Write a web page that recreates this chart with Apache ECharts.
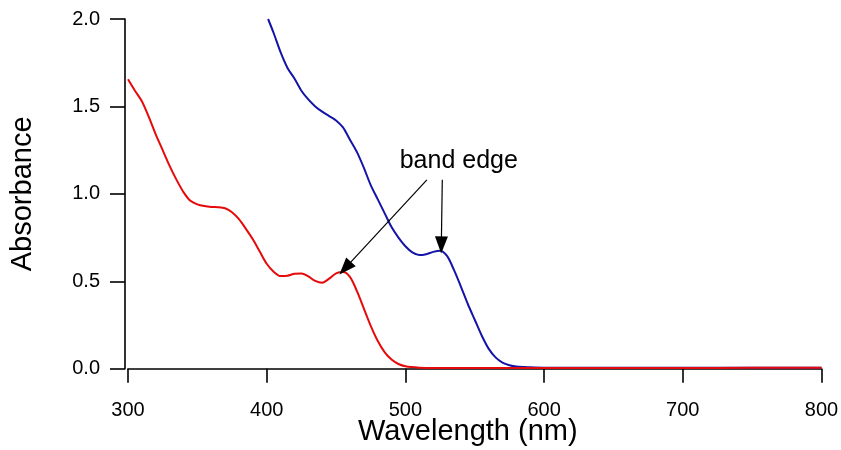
<!DOCTYPE html>
<html>
<head>
<meta charset="utf-8">
<script src="https://cdn.jsdelivr.net/npm/echarts@6/dist/echarts.min.js"></script>
<style>
  html, body { margin: 0; padding: 0; background: #fff; }
  #chart { width: 841px; height: 450px; }
</style>
</head>
<body>
<div id="chart"></div>
<script>
  // red spectrum (shorter wavelength band edge)
  const redNm = [300, 305, 310, 315, 320, 325, 330, 335, 340, 345, 350, 355, 360, 365, 370, 375, 380, 385, 390, 395,
    400, 405, 410, 415, 420, 425, 430, 435, 440, 445, 450, 455, 460, 465, 470, 475, 480, 485, 490, 495,
    500, 510, 520, 550, 600, 650, 700, 750, 800];
  const redAbs = [1.655, 1.59, 1.53, 1.44, 1.34, 1.25, 1.16, 1.08, 1.01, 0.96, 0.94, 0.93, 0.925, 0.924, 0.918, 0.895, 0.855, 0.80, 0.74, 0.67,
    0.60, 0.555, 0.53, 0.532, 0.543, 0.545, 0.528, 0.502, 0.492, 0.515, 0.545, 0.553, 0.525, 0.445, 0.345, 0.245, 0.16, 0.095, 0.052, 0.027,
    0.014, 0.006, 0.004, 0.004, 0.004, 0.004, 0.004, 0.005, 0.005];

  // blue spectrum
  const blueNm = [401, 405, 410, 415, 420, 425, 430, 435, 440, 445, 450, 455, 460, 465, 470, 475, 480, 485, 490, 495,
    500, 505, 510, 515, 520, 525, 530, 535, 540, 545, 550, 555, 560, 565, 570, 575, 580, 590, 600, 650, 700, 750, 800];
  const blueAbs = [2.0, 1.92, 1.81, 1.72, 1.66, 1.59, 1.54, 1.50, 1.47, 1.445, 1.42, 1.38, 1.31, 1.24, 1.15, 1.05, 0.97, 0.89, 0.81, 0.75,
    0.70, 0.665, 0.65, 0.655, 0.668, 0.675, 0.645, 0.565, 0.47, 0.37, 0.28, 0.19, 0.115, 0.065, 0.035, 0.02, 0.012, 0.008, 0.006, 0.006, 0.006, 0.006, 0.006];

  const xTicks = [300, 400, 500, 600, 700, 800];
  const yTicks = [0.0, 0.5, 1.0, 1.5, 2.0];

  // annotation: label + two arrows (data coords)
  const noteText = 'band edge';
  const notePos = [538.5, 1.19];
  const arrowLeft = [[515.5, 1.08], [456.6, 0.575]];
  const arrowRight = [[526.6, 1.08], [525.9, 0.708]];

  const font = '"Liberation Sans", Arial, sans-serif';
  const chart = echarts.init(document.getElementById('chart'));

  function zip(xs, ys) {
    return xs.map((x, i) => [x, ys[i]]);
  }

  function arrow(pts) {
    return [
      { coord: pts[0], symbol: 'none' },
      { coord: pts[1], symbol: 'triangle', symbolSize: [13, 17] },
    ];
  }

  chart.setOption({
    animation: false,
    backgroundColor: '#fff',
    grid: { left: 128, right: 19.5, top: 19, bottom: 81.3, containLabel: false, outerBoundsMode: 'none' },
    xAxis: {
      type: 'value',
      min: xTicks[0],
      max: xTicks[xTicks.length - 1],
      interval: 100,
      offset: 3,
      name: 'Wavelength (nm)',
      nameLocation: 'middle',
      nameGap: 46,
      nameMoveOverlap: false,
      nameTextStyle: { fontFamily: font, fontSize: 29, color: '#000', padding: [0, 14, 0, 0] },
      axisLine: { lineStyle: { color: '#000', width: 1.6 } },
      axisTick: { length: 14, lineStyle: { color: '#000', width: 1.6 } },
      axisLabel: { fontFamily: font, fontSize: 20, color: '#000', margin: 29 },
      splitLine: { show: false },
    },
    yAxis: {
      type: 'value',
      min: yTicks[0],
      max: yTicks[yTicks.length - 1],
      interval: 0.5,
      offset: 3,
      name: 'Absorbance',
      nameLocation: 'middle',
      nameGap: 88,
      nameMoveOverlap: false,
      nameTextStyle: { fontFamily: font, fontSize: 29, color: '#000' },
      axisLine: { show: true, lineStyle: { color: '#000', width: 1.6 } },
      axisTick: { show: true, length: 15, lineStyle: { color: '#000', width: 1.6 } },
      axisLabel: { fontFamily: font, fontSize: 20, color: '#000', margin: 25, formatter: v => v.toFixed(1) },
      splitLine: { show: false },
    },
    series: [
      {
        type: 'line',
        data: zip(blueNm, blueAbs),
        showSymbol: false,
        smooth: 0.3,
        lineStyle: { color: '#1414a8', width: 2 },
        z: 2,
      },
      {
        type: 'line',
        data: zip(redNm, redAbs),
        showSymbol: false,
        smooth: 0.3,
        lineStyle: { color: '#e60a0a', width: 2 },
        z: 3,
      },
      {
        type: 'line',
        data: [],
        z: 5,
        markLine: {
          silent: true,
          lineStyle: { color: '#000', width: 1.2, type: 'solid' },
          label: { show: false },
          data: [arrow(arrowLeft), arrow(arrowRight)],
        },
        markPoint: {
          silent: true,
          symbol: 'circle',
          symbolSize: 0,
          label: { show: true, formatter: noteText, fontFamily: font, fontSize: 25, color: '#000' },
          data: [{ coord: notePos }],
        },
      },
    ],
  });
</script>
</body>
</html>
